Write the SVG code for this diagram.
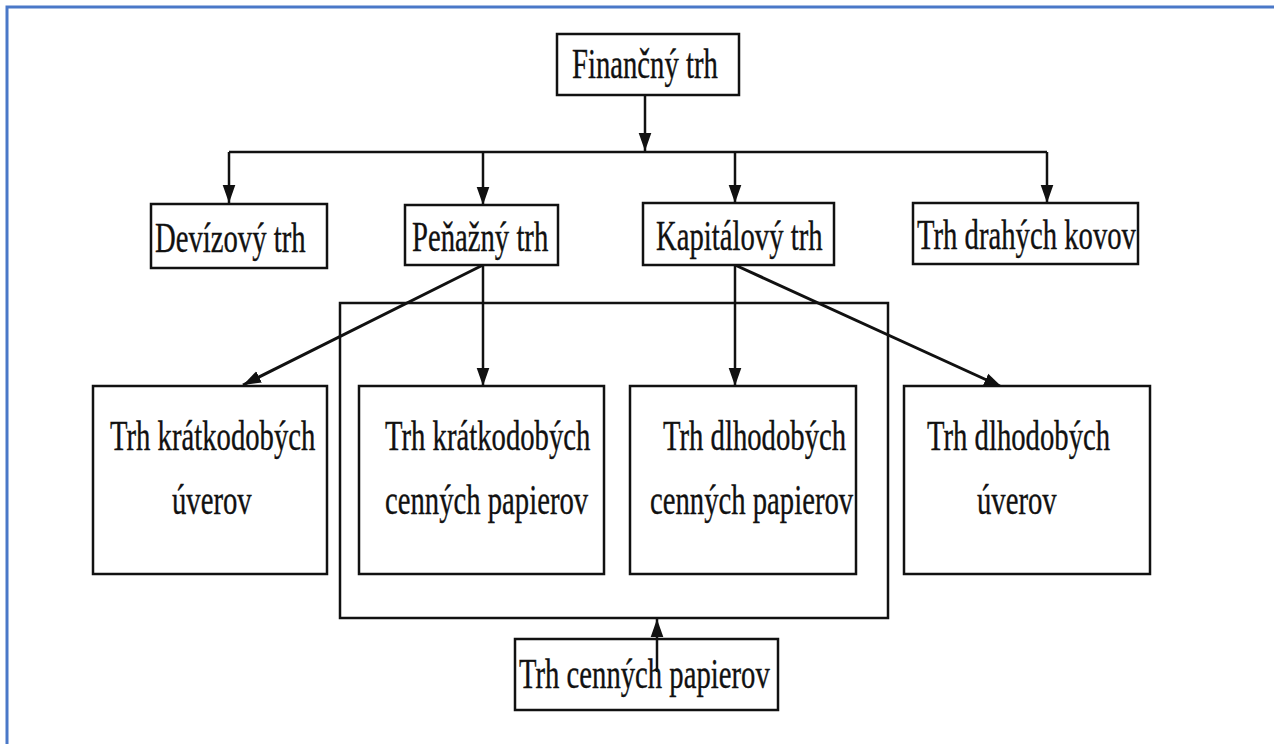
<svg xmlns="http://www.w3.org/2000/svg" width="1274" height="744" viewBox="0 0 1274 744">
  <style>
    .box { fill: #ffffff; stroke: #111111; stroke-width: 2.5; }
    .frame { fill: none; stroke: #4a78c8; stroke-width: 3; }
    .ln { fill: none; stroke: #111111; stroke-width: 2.5; }
    .dg { fill: none; stroke: #111111; stroke-width: 3; }
    .t { font-family: "Liberation Serif", "Times New Roman", serif; font-size: 28.7px; fill: #111111; stroke: #111111; stroke-width: 0.25; }
  </style>
  <defs>
    <marker id="ah" viewBox="0 0 20 14" refX="20" refY="7" markerWidth="18" markerHeight="14" markerUnits="userSpaceOnUse" orient="auto">
      <path d="M0,0 L20,7 L0,14 z" fill="#111111"/>
    </marker>
  </defs>
  <rect x="0" y="0" width="1274" height="744" fill="#ffffff"/>
  <path class="frame" d="M7,744 L7,7 L1274,7"/>

  <g id="connectors">
    <line class="ln" x1="645" y1="95" x2="645" y2="151" marker-end="url(#ah)"/>
    <line class="ln" x1="229" y1="152" x2="1047" y2="152"/>
    <line class="ln" x1="229" y1="152" x2="229" y2="203" marker-end="url(#ah)"/>
    <line class="ln" x1="483" y1="152" x2="483" y2="205" marker-end="url(#ah)"/>
    <line class="ln" x1="735" y1="152" x2="735" y2="203" marker-end="url(#ah)"/>
    <line class="ln" x1="1047" y1="152" x2="1047" y2="203" marker-end="url(#ah)"/>
    <line class="dg" x1="483" y1="265" x2="243" y2="385" marker-end="url(#ah)"/>
    <line class="ln" x1="483" y1="265" x2="483" y2="386" marker-end="url(#ah)"/>
    <line class="ln" x1="735" y1="265" x2="735" y2="386" marker-end="url(#ah)"/>
    <line class="dg" x1="735" y1="265" x2="1002" y2="387" marker-end="url(#ah)"/>
  </g>

  <g id="securities-group">
    <rect x="340" y="303" width="548" height="315" fill="none" stroke="#111111" stroke-width="2.5"/>
  </g>

  <g id="financny-trh">
    <rect class="box" x="557" y="34" width="182" height="61"/>
    <text class="t" transform="translate(572,78) scale(1,1.5)">Finančný trh</text>
  </g>
  <g id="devizovy-trh">
    <rect class="box" x="151" y="204" width="176" height="64"/>
    <text class="t" transform="translate(155,252) scale(1,1.5)">Devízový trh</text>
  </g>
  <g id="penazny-trh">
    <rect class="box" x="405" y="205" width="153" height="60"/>
    <text class="t" transform="translate(412,251) scale(1,1.5)">Peňažný trh</text>
  </g>
  <g id="kapitalovy-trh">
    <rect class="box" x="643" y="203" width="191" height="62"/>
    <text class="t" transform="translate(656,250) scale(1,1.5)">Kapitálový trh</text>
  </g>
  <g id="trh-drahych-kovov">
    <rect class="box" x="913" y="203" width="225" height="61"/>
    <text class="t" transform="translate(917,249) scale(1,1.5)">Trh drahých kovov</text>
  </g>

  <g id="kratkodobe-uvery">
    <rect class="box" x="93" y="386" width="234" height="188"/>
    <text class="t" transform="translate(110,450) scale(1,1.5)">Trh krátkodobých</text>
    <text class="t" transform="translate(172,514) scale(1,1.5)">úverov</text>
  </g>
  <g id="kratkodobe-cp">
    <rect class="box" x="359" y="386" width="245" height="188"/>
    <text class="t" transform="translate(385,450) scale(1,1.5)">Trh krátkodobých</text>
    <text class="t" transform="translate(385,514) scale(1,1.5)">cenných papierov</text>
  </g>
  <g id="dlhodobe-cp">
    <rect class="box" x="630" y="386" width="226" height="188"/>
    <text class="t" transform="translate(663,450) scale(1,1.5)">Trh dlhodobých</text>
    <text class="t" transform="translate(650,514) scale(1,1.5)">cenných papierov</text>
  </g>
  <g id="dlhodobe-uvery">
    <rect class="box" x="904" y="386" width="246" height="188"/>
    <text class="t" transform="translate(927,450) scale(1,1.5)">Trh dlhodobých</text>
    <text class="t" transform="translate(977,514) scale(1,1.5)">úverov</text>
  </g>

  <g id="trh-cennych-papierov">
    <rect class="box" x="515" y="639" width="263" height="71"/>
    <text class="t" transform="translate(519,688) scale(1,1.5)">Trh cenných papierov</text>
  </g>
  <g id="connector-up">
    <line class="ln" x1="657" y1="672" x2="657" y2="619" marker-end="url(#ah)"/>
  </g>
</svg>
